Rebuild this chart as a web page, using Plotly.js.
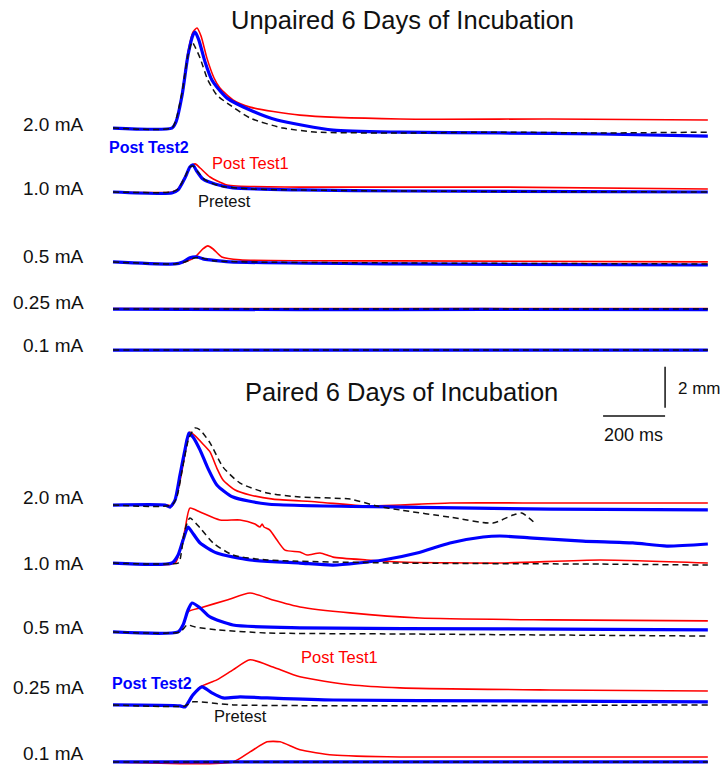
<!DOCTYPE html>
<html>
<head>
<meta charset="utf-8">
<script src="https://cdn.plot.ly/plotly-3.0.1.min.js"></script>
<style>html,body{margin:0;padding:0;background:#fff;}#chart{width:724px;height:766px;}</style>
</head>
<body>
<div id="chart"></div>
<script>
// ---------- DATA (time in ms, amplitude of eyelid closure in mm) ----------
const currentLabels = ['2.0 mA', '1.0 mA', '0.5 mA', '0.25 mA', '0.1 mA'];
const groupTitles = ['Unpaired 6 Days of Incubation', 'Paired 6 Days of Incubation'];
const seriesNames = ['Post Test1', 'Post Test2', 'Pretest'];

// Unpaired, 2.0 mA
const u20_t_post1 = [0,190,203,223,242,258,271,284,303,326,345,387,442,603,926,1410,1919];
const u20_a_post1 = [0,0,0.29,1.71,3.71,4.68,4.88,4.49,3.41,2.44,1.95,1.37,1.02,0.63,0.44,0.44,0.39];
const u20_t_post2 = [0,190,203,223,242,258,265,277,297,319,335,368,442,529,710,926,1248,1571,1919];
const u20_a_post2 = [0,0,0.29,1.61,3.56,4.54,4.68,4.29,3.22,2.34,2.00,1.46,0.88,0.39,-0.10,-0.20,-0.24,-0.29,-0.39];
const u20_t_pre = [0,190,203,223,242,255,265,281,306,335,368,442,548,658,926,1248,1571,1919];
const u20_a_pre = [0,0,0.39,1.76,3.56,4.20,3.95,3.41,2.34,1.61,1.22,0.49,0,-0.20,-0.24,-0.20,-0.24,-0.20];
// Unpaired, 1.0 mA
const u10_t_post1 = [0,190,210,232,248,265,281,313,368,603,1248,1919];
const u10_a_post1 = [0,0,0.15,0.73,1.22,1.37,1.17,0.73,0.34,0.24,0.24,0.15];
const u10_t_post2 = [0,190,210,232,248,258,268,290,329,387,603,926,1919];
const u10_a_post2 = [0,-0.05,0.1,0.68,1.22,1.32,1.07,0.63,0.39,0.20,0.10,0.05,0];
const u10_t_pre = [0,190,210,232,248,258,274,297,345,442,926,1919];
const u10_a_pre = [0,0,0.15,0.73,1.22,1.27,0.98,0.59,0.29,0.15,0.05,0];
// Unpaired, 0.5 mA
const u05_t_post1 = [0,200,232,265,290,306,323,351,410,926,1919];
const u05_a_post1 = [0,-0.1,0,0.24,0.63,0.78,0.63,0.24,0.1,0.05,0];
const u05_t_post2 = [0,200,225,248,271,290,313,377,926,1919];
const u05_a_post2 = [0,-0.1,0,0.2,0.24,0.15,0.1,0,-0.1,-0.15];
const u05_t_pre = [0,200,232,265,281,329,926,1919];
const u05_a_pre = [0,-0.1,0,0.2,0.2,0.05,-0.05,-0.1];
// Unpaired, 0.25 mA
const u025_t_post1 = [0,600,1200,1919];
const u025_a_post1 = [0.03,0.03,0.03,0.03];
const u025_t_post2 = [0,600,1200,1919];
const u025_a_post2 = [0,-0.03,-0.02,-0.03];
const u025_t_pre = [0,600,1200,1919];
const u025_a_pre = [0,0,0,0];
// Unpaired, 0.1 mA
const u01_t_post1 = [0,600,1200,1919];
const u01_a_post1 = [0,0,0,0];
const u01_t_post2 = [0,600,1200,1919];
const u01_a_post2 = [0,0,0,0];
const u01_t_pre = [0,600,1200,1919];
const u01_a_pre = [0,0,0,0];

// Paired, 2.0 mA
const p20_t_post1 = [0,177,190,206,223,239,248,265,290,313,335,355,394,442,516,658,819,926,1087,1410,1919];
const p20_a_post1 = [0,0,-0.05,0.49,1.71,3.07,3.56,3.37,2.98,2.59,1.80,1.22,0.73,0.49,0.29,0.15,-0.05,0,0.1,0.1,0.1];
const p20_t_post2 = [0,168,184,200,216,232,245,258,281,306,335,387,497,926,1410,1919];
const p20_a_post2 = [0,0,-0.1,0.24,1.46,2.68,3.51,3.32,2.68,1.80,0.98,0.39,0.05,-0.10,-0.20,-0.24];
const p20_t_pre = [0,190,206,226,245,265,281,313,355,410,497,603,765,852,926,1087,1226,1290,1319,1361];
const p20_a_pre = [0,0,0.39,1.95,3.27,3.76,3.66,3.03,1.85,1.07,0.59,0.39,0.29,-0.05,-0.24,-0.59,-0.88,-0.49,-0.39,-0.88];
// Paired, 1.0 mA
const p10_t_post1 = [0,200,216,232,248,281,345,410,458,474,481,487,506,529,555,603,626,668,710,819,926,1248,1571,1919];
const p10_a_post1 = [0,0,0.63,1.61,2.68,2.49,2.10,2.10,1.90,1.76,1.90,1.76,1.61,1.12,0.63,0.54,0.39,0.49,0.29,0.15,0.05,0,0.15,0];
const p10_t_post2 = [0,190,210,226,242,255,281,335,442,603,710,871,981,1087,1194,1248,1355,1516,1677,1787,1919];
const p10_a_post2 = [0,0,0.39,1.12,1.76,1.51,0.98,0.49,0.15,0,-0.1,0.15,0.49,0.98,1.27,1.32,1.22,1.07,0.98,0.83,0.93];
const p10_t_pre = [0,210,216,232,248,281,323,387,497,926,1571,1919];
const p10_a_pre = [0,0,0.15,1.61,2.20,1.71,0.98,0.39,0.15,0,-0.05,-0.1];
// Paired, 0.5 mA
const p05_t_post1 = [0,210,226,242,281,368,442,516,603,765,990,1410,1919];
const p05_a_post1 = [0,0,0.34,0.98,1.17,1.56,1.90,1.56,1.22,0.93,0.68,0.59,0.54];
const p05_t_post2 = [0,210,226,242,255,281,313,387,603,1248,1919];
const p05_a_post2 = [0,0,0.34,1.07,1.41,1.17,0.73,0.34,0.2,0.15,0.1];
const p05_t_pre = [0,216,239,265,335,497,926,1919];
const p05_a_pre = [0,0,0.34,0.24,0.1,-0.05,-0.1,-0.2];
// Paired, 0.25 mA
const p025_t_post1 = [0,216,232,258,281,335,387,442,516,603,765,926,1410,1919];
const p025_a_post1 = [0,-0.05,-0.1,0.49,0.88,1.22,1.71,2.20,1.85,1.37,0.98,0.83,0.73,0.68];
const p025_t_post2 = [0,216,232,258,287,319,355,410,497,710,1248,1919];
const p025_a_post2 = [0,-0.05,-0.1,0.49,0.88,0.59,0.34,0.39,0.34,0.24,0.2,0.15];
const p025_t_pre = [0,232,258,387,1919];
const p025_a_pre = [0,-0.05,0.15,0,0];
// Paired, 0.1 mA
const p01_t_post1 = [0,387,442,497,539,603,710,926,1919];
const p01_a_post1 = [0,0,0.49,0.98,0.98,0.59,0.34,0.24,0.24];
const p01_t_post2 = [0,600,1200,1919];
const p01_a_post2 = [0,0,0,0];
const p01_t_pre = [0,600,1200,1919];
const p01_a_pre = [0,0,0,0];

const unpairedSets = [
  [u20_t_post1,u20_a_post1,u20_t_post2,u20_a_post2,u20_t_pre,u20_a_pre],
  [u10_t_post1,u10_a_post1,u10_t_post2,u10_a_post2,u10_t_pre,u10_a_pre],
  [u05_t_post1,u05_a_post1,u05_t_post2,u05_a_post2,u05_t_pre,u05_a_pre],
  [u025_t_post1,u025_a_post1,u025_t_post2,u025_a_post2,u025_t_pre,u025_a_pre],
  [u01_t_post1,u01_a_post1,u01_t_post2,u01_a_post2,u01_t_pre,u01_a_pre]
];
const pairedSets = [
  [p20_t_post1,p20_a_post1,p20_t_post2,p20_a_post2,p20_t_pre,p20_a_pre],
  [p10_t_post1,p10_a_post1,p10_t_post2,p10_a_post2,p10_t_pre,p10_a_pre],
  [p05_t_post1,p05_a_post1,p05_t_post2,p05_a_post2,p05_t_pre,p05_a_pre],
  [p025_t_post1,p025_a_post1,p025_t_post2,p025_a_post2,p025_t_pre,p025_a_pre],
  [p01_t_post1,p01_a_post1,p01_t_post2,p01_a_post2,p01_t_pre,p01_a_pre]
];

// ---------- LAYOUT ----------
const W = 724, H = 766;
const MS_PER_PX = 3.226, MM_PX = 20.5, X0PX = 113;
const unpairedBase = [31.12, 28.0, 24.59, 22.29, 20.29];
const pairedBase = [12.73, 9.90, 6.54, 2.98, 0.20];
const unpairedLabelY = [124, 188, 257, 302, 345];
const pairedLabelY = [497, 563, 627, 687, 753];

const FONT = 'Liberation Sans, Arial, sans-serif';
const styles = [
  {color:'#ff0000', width:1.6, dash:'solid'},
  {color:'#0000ff', width:3.2, dash:'solid'},
  {color:'#111111', width:1.5, dash:'6px,4px'}
];

const traces = [];
function addGroup(sets, bases) {
  sets.forEach((s, i) => {
    for (let k = 0; k < 3; k++) {
      const t = s[2*k], a = s[2*k+1];
      traces.push({
        x: t, y: a.map(v => v + bases[i]),
        type: 'scatter', mode: 'lines', name: seriesNames[k],
        line: {color: styles[k].color, width: styles[k].width, dash: styles[k].dash, shape: 'spline', smoothing: 0.6},
        hoverinfo: 'skip', showlegend: false
      });
    }
  });
}
addGroup(unpairedSets, unpairedBase);
addGroup(pairedSets, pairedBase);

const px = p => p / W;
const py = p => 1 - p / H;
const ann = [];
function txt(text, x, y, size, color, anchor, bold) {
  ann.push({text: bold ? '<b>' + text + '</b>' : text, xref:'paper', yref:'paper', x: px(x), y: py(y),
    xanchor: anchor, yanchor:'middle', showarrow:false, font:{family:FONT, size:size, color:color}});
}
txt(groupTitles[0], 402, 20, 25.5, '#111', 'center');
txt(groupTitles[1], 401, 392, 25.5, '#111', 'center');
currentLabels.forEach((c, i) => {
  txt(c, 86, unpairedLabelY[i], 19, '#111', 'right');
  txt(c, 86, pairedLabelY[i], 19, '#111', 'right');
});
txt(seriesNames[1], 107, 148, 16, '#0000ff', 'left', true);
txt(seriesNames[0], 210, 163, 16.5, '#ff0000', 'left');
txt(seriesNames[2], 196, 201, 16.5, '#111', 'left');
txt(seriesNames[0], 299, 657, 16.5, '#ff0000', 'left');
txt(seriesNames[1], 110, 683, 16, '#0000ff', 'left', true);
txt(seriesNames[2], 212, 716, 16.5, '#111', 'left');
txt('2 mm', 676, 388, 17, '#111', 'left');
txt('200 ms', 633, 435, 18, '#111', 'center');

const xr = [-X0PX * MS_PER_PX, (W - X0PX) * MS_PER_PX];
const yr = [0, H / MM_PX];
const barX = 1781, barY = 17.07;
const shapes = [
  {type:'line', xref:'x', yref:'y', x0: barX, x1: barX, y0: barY + 0.4, y1: barY + 2.4, line:{color:'#111', width:1.5}},
  {type:'line', xref:'x', yref:'y', x0: barX - 200, x1: barX, y0: barY, y1: barY, line:{color:'#111', width:1.5}}
];

Plotly.newPlot('chart', traces, {
  width: W, height: H,
  margin: {l:0, r:0, t:0, b:0},
  paper_bgcolor:'#fff', plot_bgcolor:'#fff',
  xaxis: {range: xr, visible:false, fixedrange:true},
  yaxis: {range: yr, visible:false, fixedrange:true},
  showlegend:false,
  annotations: ann, shapes: shapes
}, {displayModeBar:false, staticPlot:true});
</script>
</body>
</html>
